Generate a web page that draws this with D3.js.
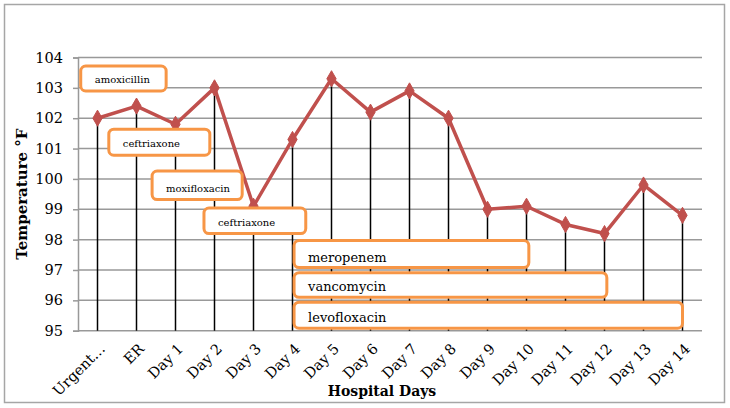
<!DOCTYPE html>
<html><head><meta charset="utf-8">
<script src="https://cdn.jsdelivr.net/npm/d3@7"></script>
<style>body{margin:0;background:#fff}svg{display:block}</style>
</head><body>
<script>
const categories = ["Urgent…","ER","Day 1","Day 2","Day 3","Day 4","Day 5","Day 6","Day 7","Day 8","Day 9","Day 10","Day 11","Day 12","Day 13","Day 14"];
const temperatures = [102.0,102.4,101.8,103.0,99.1,101.3,103.3,102.2,102.9,102.0,99.0,99.1,98.5,98.2,99.8,98.8];
const yTicks = [95,96,97,98,99,100,101,102,103,104];
// antibiotic annotation boxes
const drugLabels = ["amoxicillin","ceftriaxone","moxifloxacin","ceftriaxone","meropenem","vancomycin","levofloxacin"];
const drugStart  = [-0.43, 0.29, 1.40, 2.73, 5.04, 5.04, 5.04];
const drugEnd    = [1.76, 2.88, 3.71, 5.34, 11.06, 13.06, 15.0];
const drugTop    = [103.72, 101.64, 100.26, 99.04, 97.97, 96.91, 95.94];
const drugBottom = [102.90, 100.78, 99.32, 98.20, 97.08, 96.10, 95.08];
const drugFont   = [10, 10, 10, 10, 13, 13, 13];

const W = 730, H = 408;
const m = {left:78, right:28, top:57.5, bottom:77.3};
const svg = d3.select("body").append("svg").attr("width",W).attr("height",H);
svg.append("rect").attr("x",4.5).attr("y",4.5).attr("width",720).attr("height",398)
  .attr("fill","#fff").attr("stroke","#A6A6A6").attr("stroke-width",1.5);

const x = d3.scalePoint().domain(categories).range([m.left, W-m.right]).padding(0.5);
const step = x.step();
const xi = i => x(categories[0]) + i*step;
const y = d3.scaleLinear().domain([95,104]).range([H-m.bottom, m.top]);
const font = "'DejaVu Serif', serif";

// gridlines
svg.append("g").selectAll("line").data(yTicks).join("line")
  .attr("x1",m.left).attr("x2",W-m.right).attr("y1",d=>y(d)).attr("y2",d=>y(d))
  .attr("stroke","#999").attr("stroke-width",1.5);

// y axis
const ya = svg.append("g").attr("transform",`translate(${m.left},0)`)
  .call(d3.axisLeft(y).tickValues(yTicks).tickSize(5).tickPadding(10).tickFormat(d3.format("d")));
ya.select(".domain").attr("stroke","#999").attr("stroke-width",1.5);
ya.selectAll(".tick line").attr("stroke","#999").attr("stroke-width",1.5);
ya.selectAll("text").attr("font-family",font).attr("font-size",14.5).attr("fill","#000");

// x axis labels
const xa = svg.append("g").attr("transform",`translate(0,${y(95)})`)
  .call(d3.axisBottom(x).tickSize(0).tickPadding(0));
xa.select(".domain").remove();
xa.selectAll("text").attr("font-family",font).attr("font-size",14.5).attr("fill","#000")
  .attr("text-anchor","end").attr("dy",null)
  .attr("transform","translate(8,19) rotate(-45)");

// drop lines
svg.append("g").selectAll("line").data(temperatures).join("line")
  .attr("x1",(d,i)=>x(categories[i])).attr("x2",(d,i)=>x(categories[i]))
  .attr("y1",d=>y(d)).attr("y2",y(95))
  .attr("stroke","#000").attr("stroke-width",1.5);

// line
svg.append("path").datum(temperatures)
  .attr("d", d3.line().x((d,i)=>x(categories[i])).y(d=>y(d)))
  .attr("fill","none").attr("stroke","#C0504D").attr("stroke-width",3.5).attr("stroke-linejoin","round");
svg.append("g").selectAll("path").data(temperatures).join("path")
  .attr("d", d3.symbol(d3.symbolDiamond, 75))
  .attr("transform",(d,i)=>`translate(${x(categories[i])},${y(d)})`)
  .attr("fill","#C0504D").attr("stroke","#C0504D").attr("stroke-width",1);

// annotation boxes
const g = svg.append("g").selectAll("g").data(drugLabels).join("g");
g.append("rect")
  .attr("x",(d,i)=>xi(drugStart[i])).attr("y",(d,i)=>y(drugTop[i]))
  .attr("width",(d,i)=>xi(drugEnd[i])-xi(drugStart[i]))
  .attr("height",(d,i)=>y(drugBottom[i])-y(drugTop[i]))
  .attr("rx",5).attr("fill","#fff").attr("stroke","#F79646").attr("stroke-width",3);
g.append("text")
  .attr("x",(d,i)=>xi(drugStart[i])+14)
  .attr("y",(d,i)=>y(drugBottom[i])-(drugFont[i]>11?6:8))
  .attr("font-family",font).attr("font-size",(d,i)=>drugFont[i]).attr("fill","#000")
  .text(d=>d);

// axis titles
svg.append("text").attr("x",382).attr("y",396).attr("text-anchor","middle")
  .attr("font-family",font).attr("font-weight","bold").attr("font-size",14).text("Hospital Days");
svg.append("text").attr("transform",`translate(27,${(y(95)+y(104))/2}) rotate(-90)`)
  .attr("text-anchor","middle").attr("font-family",font).attr("font-weight","bold").attr("font-size",15)
  .text("Temperature °F");
</script>
</body></html>
